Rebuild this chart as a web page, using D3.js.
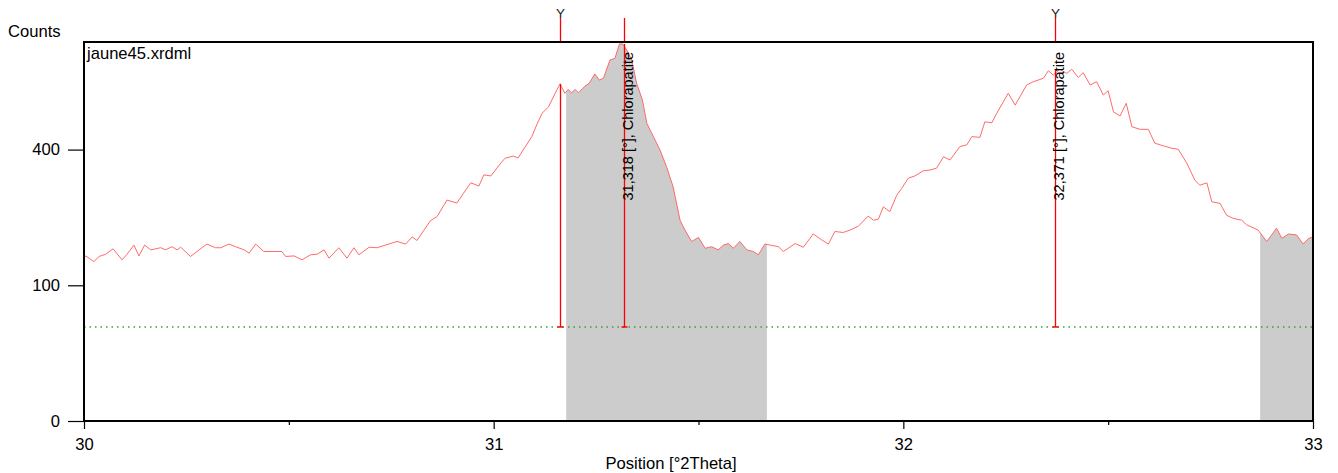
<!DOCTYPE html>
<html>
<head>
<meta charset="utf-8">
<script src="https://cdn.jsdelivr.net/npm/d3@7/dist/d3.min.js"></script>
<style>
  html, body { margin: 0; padding: 0; background: #fff; }
  svg { display: block; font-family: "Liberation Sans", Arial, Helvetica, sans-serif; }
</style>
</head>
<body>
<svg id="chart" width="1338" height="473"></svg>
<script>
// ---- data ----
const positions = [
  30.000, 30.004, 30.024, 30.037, 30.053, 30.071, 30.093, 30.105, 30.122, 30.134,
  30.148, 30.163, 30.187, 30.199, 30.215, 30.227, 30.236, 30.260, 30.281, 30.300,
  30.321, 30.334, 30.354, 30.370, 30.391, 30.403, 30.419, 30.439, 30.464, 30.483,
  30.492, 30.513, 30.532, 30.553, 30.569, 30.586, 30.598, 30.622, 30.642, 30.659,
  30.671, 30.696, 30.715, 30.736, 30.764, 30.785, 30.801, 30.813, 30.830, 30.846,
  30.862, 30.886, 30.910, 30.944, 30.964, 30.976, 30.993, 31.020, 31.028, 31.048,
  31.060, 31.072, 31.093, 31.105, 31.118, 31.134, 31.150, 31.162, 31.174, 31.182,
  31.190, 31.199, 31.207, 31.223, 31.233, 31.247, 31.258, 31.268, 31.284, 31.296,
  31.307, 31.315, 31.325, 31.337, 31.349, 31.363, 31.374, 31.390, 31.406, 31.422,
  31.438, 31.455, 31.467, 31.483, 31.500, 31.516, 31.532, 31.548, 31.561, 31.573,
  31.585, 31.601, 31.618, 31.634, 31.646, 31.662, 31.675, 31.695, 31.707, 31.719,
  31.736, 31.756, 31.780, 31.801, 31.817, 31.833, 31.853, 31.870, 31.890, 31.914,
  31.927, 31.939, 31.951, 31.967, 31.984, 31.996, 32.012, 32.028, 32.049, 32.065,
  32.081, 32.098, 32.114, 32.138, 32.155, 32.167, 32.187, 32.199, 32.216, 32.228,
  32.256, 32.273, 32.301, 32.317, 32.329, 32.342, 32.354, 32.366, 32.382, 32.399,
  32.411, 32.427, 32.439, 32.456, 32.472, 32.488, 32.500, 32.513, 32.529, 32.544,
  32.558, 32.578, 32.598, 32.614, 32.635, 32.655, 32.671, 32.692, 32.712, 32.724,
  32.741, 32.753, 32.773, 32.789, 32.805, 32.826, 32.838, 32.866, 32.887, 32.899,
  32.911, 32.924, 32.940, 32.960, 32.976, 32.989, 33.000
];
const counts = [
  144, 148, 138, 147, 151, 161, 141, 151, 168, 148,
  168, 159, 163, 159, 165, 159, 164, 147, 159, 170,
  163, 163, 170, 165, 159, 153, 170, 156, 156, 156,
  147, 148, 141, 150, 151, 159, 144, 163, 144, 163,
  150, 164, 163, 168, 175, 170, 184, 177, 198, 218,
  227, 265, 258, 308, 300, 329, 326, 365, 375, 381,
  376, 399, 439, 476, 514, 536, 583, 617, 583, 597,
  585, 597, 585, 609, 619, 654, 631, 638, 708, 714,
  772, 772, 747, 708, 619, 560, 481, 439, 399, 351,
  298, 219, 198, 175, 183, 162, 165, 159, 168, 171,
  162, 175, 159, 156, 150, 170, 168, 165, 156, 162,
  171, 164, 190, 178, 170, 195, 193, 198, 206, 228,
  219, 221, 249, 238, 277, 294, 320, 326, 340, 342,
  347, 379, 370, 409, 414, 439, 437, 486, 483, 514,
  583, 542, 613, 625, 631, 638, 666, 650, 672, 656,
  672, 641, 659, 613, 625, 577, 592, 519, 505, 548,
  470, 462, 462, 419, 411, 404, 401, 361, 314, 302,
  308, 261, 257, 230, 223, 219, 209, 198, 175, 188,
  202, 181, 190, 188, 170, 181, 184
];
const grayStart = [31.177, 32.871];
const grayEnd = [31.667, 33.000];
const peakPos = [31.162, 31.318, 32.371];
const peakHeight = [617, 772, 672];
const peakHasY = [true, false, true];
const peakLabels = ["", "31,318 [°], Chlorapatite", "32,371 [°], Chlorapatite"];
const backgroundLevel = 48;
const xTicks = [30, 31, 32, 33];
const xMinorTicks = [30.5, 31.5, 32.5];
const yTicks = [0, 100, 400];
const fileName = "jaune45.xrdml";
const yTitle = "Counts";
const xTitle = "Position [°2Theta]";

// ---- layout ----
const L = 84, R = 1313, T = 42, B = 421;
const FS = 16.6;
const svg = d3.select("#chart");
const x = d3.scaleLinear().domain([30, 33]).range([L, R]);
const y = d3.scaleSqrt().domain([0, 780]).range([B, T]);

const data = positions.map((p, i) => ({ p, c: counts[i] }));
const bis = d3.bisector(d => d.p).left;
function interp(p) {
  const i = Math.max(1, Math.min(data.length - 1, bis(data, p)));
  const a = data[i - 1], b = data[i];
  const t = (p - a.p) / (b.p - a.p);
  return a.c + t * (b.c - a.c);
}

svg.append("defs").append("clipPath").attr("id", "clip")
  .append("rect").attr("x", L).attr("y", T).attr("width", R - L).attr("height", B - T);

const plot = svg.append("g").attr("clip-path", "url(#clip)");

// gray filled regions
const area = d3.area().x(d => x(d.p)).y0(y(0)).y1(d => y(d.c));
grayStart.forEach((s, k) => {
  const e = grayEnd[k];
  const pts = [{ p: s, c: interp(s) }]
    .concat(data.filter(d => d.p > s && d.p < e))
    .concat([{ p: e, c: interp(e) }]);
  plot.append("path").attr("d", area(pts)).attr("fill", "#cccccc");
});

// background level (green dotted)
plot.append("line")
  .attr("x1", L).attr("x2", R)
  .attr("y1", y(backgroundLevel)).attr("y2", y(backgroundLevel))
  .attr("stroke", "#3c9e3c").attr("stroke-width", 1.5)
  .attr("stroke-dasharray", "1.5,4");

// measured curve
plot.append("path")
  .datum(data)
  .attr("d", d3.line().x(d => x(d.p)).y(d => y(d.c)))
  .attr("fill", "none")
  .attr("stroke", "#ff5a5a")
  .attr("stroke-width", 0.9);

// peak drop lines
peakPos.forEach((p, i) => {
  const px = Math.round(x(p)) + 0.5;
  plot.append("line")
    .attr("x1", px).attr("x2", px)
    .attr("y1", y(peakHeight[i])).attr("y2", y(backgroundLevel))
    .attr("stroke", "#ff0000").attr("stroke-width", 1.3);
  plot.append("line")
    .attr("x1", px - 3).attr("x2", px + 3)
    .attr("y1", y(backgroundLevel)).attr("y2", y(backgroundLevel))
    .attr("stroke", "#ff0000").attr("stroke-width", 1.5);
  // marker above frame
  svg.append("line")
    .attr("x1", px).attr("x2", px)
    .attr("y1", 18).attr("y2", T)
    .attr("stroke", "#ff0000").attr("stroke-width", 1.3);
  if (peakHasY[i]) {
    svg.append("text")
      .attr("x", px).attr("y", 18)
      .attr("text-anchor", "middle")
      .attr("font-size", 13.5)
      .attr("fill", "#222")
      .text("Y");
  }
  if (peakLabels[i]) {
    svg.append("text")
      .attr("transform", `translate(${px + 8},52) rotate(-90)`)
      .attr("text-anchor", "end")
      .attr("font-size", 14.5)
      .attr("fill", "#000")
      .text(peakLabels[i]);
  }
});

// frame
svg.append("rect")
  .attr("x", L).attr("y", T).attr("width", R - L).attr("height", B - T)
  .attr("fill", "none").attr("stroke", "#000").attr("stroke-width", 2);

// axes
const yAxis = svg.append("g").attr("transform", `translate(${L},0)`)
  .call(d3.axisLeft(y).tickValues(yTicks).tickSize(16).tickPadding(8).tickFormat(d3.format("d")));
const xAxis = svg.append("g").attr("transform", `translate(0,${B})`)
  .call(d3.axisBottom(x).tickValues(xTicks).tickSize(8).tickPadding(9).tickFormat(d3.format("d")));
const xMinor = svg.append("g").attr("transform", `translate(0,${B})`)
  .call(d3.axisBottom(x).tickValues(xMinorTicks).tickSize(4).tickFormat(""));
[yAxis, xAxis, xMinor].forEach(g => {
  g.select(".domain").remove();
  g.selectAll("line").attr("stroke", "#000").attr("stroke-width", 1.2);
  g.selectAll("text").attr("font-size", FS).attr("fill", "#000")
    .attr("font-family", "'Liberation Sans', Arial, sans-serif");
});

// titles
svg.append("text").attr("x", 8).attr("y", 37).attr("font-size", FS).attr("fill", "#000").text(yTitle);
svg.append("text").attr("x", 671).attr("y", 469).attr("text-anchor", "middle")
  .attr("font-size", FS).attr("fill", "#000").text(xTitle);
svg.append("text").attr("x", 87).attr("y", 59).attr("font-size", FS).attr("fill", "#000").text(fileName);
</script>
</body>
</html>
